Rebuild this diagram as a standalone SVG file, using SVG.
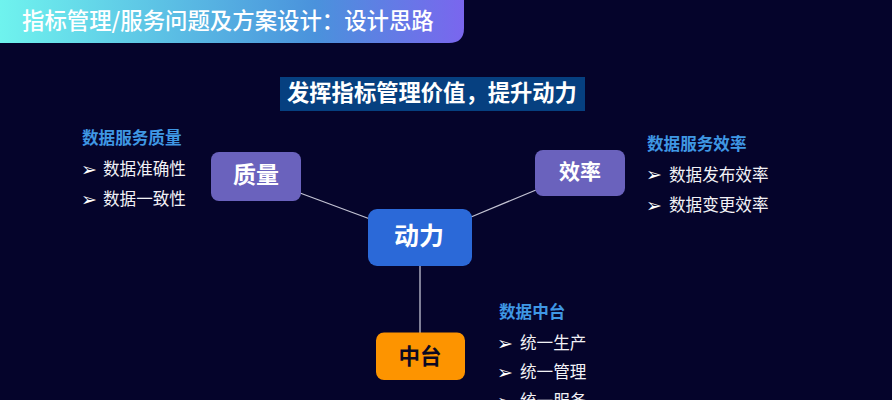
<svg xmlns="http://www.w3.org/2000/svg" width="892" height="400" viewBox="0 0 892 400">
<style>
text{font-family:"Noto Sans CJK SC","Noto Sans",sans-serif}
.w{fill:#fff}
.h{fill:#3f97e4;font-size:16.6px;font-weight:700}
.i{fill:#f2f2f6;font-size:16.6px;font-weight:400}
.b{fill:#fff;font-size:19px;font-weight:700;font-family:"DejaVu Sans",sans-serif}
.n{font-size:23px;font-weight:700;text-anchor:middle}
.c{stroke:#c3c3d3;stroke-width:1.3;fill:none}
</style>
<defs>
<linearGradient id="g" x1="0" x2="1" y1="0" y2="0">
<stop offset="0" stop-color="#6ff3ee"/>
<stop offset="0.68" stop-color="#4a92dc"/>
<stop offset="1" stop-color="#7a66ee"/>
</linearGradient>
</defs>
<rect width="892" height="400" fill="#05042b"/>
<g id="banner">
<path d="M0 0H464V28Q464 43 449 43H0Z" fill="url(#g)"/>
<text x="22" y="29" class="w" font-size="22.4" font-weight="500">指标管理/服务问题及方案设计：设计思路</text>
</g>
<g id="subtitle">
<rect x="280" y="77" width="305" height="34" fill="#064080"/>
<text x="287" y="101" class="w" font-size="22.3" font-weight="700">发挥指标管理价值，提升动力</text>
</g>
<g id="connectors">
<line class="c" x1="300" y1="193" x2="370" y2="219"/>
<line class="c" x1="471" y1="217" x2="536" y2="190"/>
<line class="c" x1="420" y1="266" x2="420" y2="333"/>
</g>
<g id="node-quality">
<rect x="211" y="152" width="90" height="49" rx="8" fill="#6a62bd"/>
<text x="256" y="183" class="n w">质量</text>
</g>
<g id="node-efficiency">
<rect x="535" y="150" width="90" height="46" rx="8" fill="#6a62bd"/>
<text x="580" y="179" class="n w" style="font-size:21px">效率</text>
</g>
<g id="node-power">
<rect x="368" y="209" width="104" height="57" rx="9" fill="#2b69d8"/>
<text x="419" y="245" class="n w" style="font-size:25px">动力</text>
</g>
<g id="node-platform">
<rect x="376" y="332.500" width="89" height="47.500" rx="8" fill="#fd9400"/>
<text x="420" y="364" class="n" style="font-size:21.500px" fill="#0b0822">中台</text>
</g>
<g id="list-quality">
<text x="82" y="144" class="h">数据服务质量</text>
<text x="81" y="176" class="b">➢</text>
<text x="103" y="175" class="i">数据准确性</text>
<text x="81" y="206" class="b">➢</text>
<text x="103" y="205" class="i">数据一致性</text>
</g>
<g id="list-efficiency">
<text x="647" y="150" class="h">数据服务效率</text>
<text x="646" y="181" class="b">➢</text>
<text x="669" y="181" class="i">数据发布效率</text>
<text x="646" y="212" class="b">➢</text>
<text x="669" y="211" class="i">数据变更效率</text>
</g>
<g id="list-platform">
<text x="499" y="318" class="h">数据中台</text>
<text x="497" y="350" class="b">➢</text>
<text x="520" y="349" class="i">统一生产</text>
<text x="497" y="379" class="b">➢</text>
<text x="520" y="378" class="i">统一管理</text>
<text x="497" y="408" class="b">➢</text>
<text x="520" y="407" class="i">统一服务</text>
</g>
</svg>
